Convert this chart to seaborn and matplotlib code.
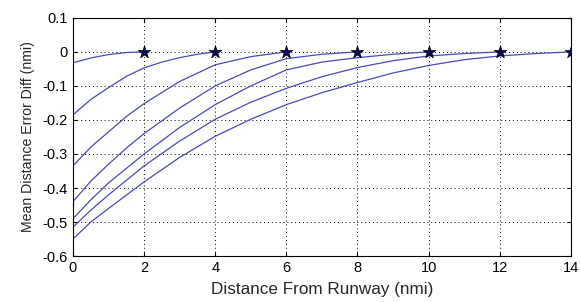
import numpy as np
import pandas as pd
import matplotlib
matplotlib.use('Agg')
import matplotlib.pyplot as plt
import seaborn as sns

# distance from runway (nmi) and mean distance error diff (nmi), one list per curve
x1 = [0, 0.5, 1, 1.5, 2]
y1 = [-0.032, -0.018, -0.008, -0.002, 0.0]
x2 = [0, 0.5, 1, 1.5, 2, 2.5, 3, 3.5, 4]
y2 = [-0.185, -0.14, -0.105, -0.072, -0.047, -0.03, -0.017, -0.007, 0.0]
x3 = [0, 0.5, 1, 1.5, 2, 3, 4, 5, 6]
y3 = [-0.335, -0.28, -0.235, -0.19, -0.152, -0.087, -0.038, -0.014, 0.0]
x4 = [0, 0.5, 1, 1.5, 2, 3, 4, 5, 6, 7, 8]
y4 = [-0.44, -0.38, -0.33, -0.283, -0.24, -0.165, -0.1, -0.053, -0.02, -0.007, 0.0]
x5 = [0, 0.5, 1, 2, 3, 4, 5, 6, 7, 8, 9, 10]
y5 = [-0.49, -0.435, -0.385, -0.3, -0.222, -0.155, -0.1, -0.053, -0.03, -0.017, -0.007, 0.0]
x6 = [0, 0.5, 1, 2, 3, 4, 5, 6, 7, 8, 9, 10, 11, 12]
y6 = [-0.515, -0.465, -0.42, -0.335, -0.262, -0.198, -0.148, -0.107, -0.073, -0.046, -0.026, -0.012, -0.005, 0.0]
x7 = [0, 0.5, 1, 2, 3, 4, 5, 6, 7, 8, 9, 10, 11, 12, 13, 14]
y7 = [-0.55, -0.5, -0.46, -0.382, -0.31, -0.248, -0.198, -0.155, -0.12, -0.09, -0.062, -0.04, -0.023, -0.012, -0.005, 0.0]

xs = [x1, x2, x3, x4, x5, x6, x7]
ys = [y1, y2, y3, y4, y5, y6, y7]

frames = []
for i, (xx, yy) in enumerate(zip(xs, ys)):
    frames.append(pd.DataFrame({'dist': xx, 'err': yy, 'run': i}))
df = pd.concat(frames, ignore_index=True)
ends = pd.DataFrame({'dist': [xx[-1] for xx in xs], 'err': [yy[-1] for yy in ys]})

sns.set_style('white')
plt.rcParams['font.family'] = ['Liberation Sans', 'DejaVu Sans']

fig = plt.figure(figsize=(5.81, 3.02), dpi=100)
ax = fig.add_axes([0.1256, 0.152, 0.857, 0.789])

sns.lineplot(data=df, x='dist', y='err', units='run', estimator=None,
             color='#4a4ab8', linewidth=0.9, ax=ax)
sns.scatterplot(data=ends, x='dist', y='err', marker='*', s=90,
                color='#0a0a5a', edgecolor='black', linewidth=0.5, zorder=5, ax=ax)

ax.set_xlim(0, 14)
ax.set_ylim(-0.6, 0.1)
ax.set_xticks(np.arange(0, 15, 2))
ax.set_yticks(np.round(np.arange(-0.6, 0.11, 0.1), 1))
ax.set_yticklabels(['-0.6', '-0.5', '-0.4', '-0.3', '-0.2', '-0.1', '0', '0.1'])
ax.grid(True, linestyle=(0, (1, 3)), color='black', linewidth=0.7)
ax.tick_params(direction='in', length=3, labelsize=10.5, colors='black',
               top=True, right=True, bottom=True, left=True)
for sp in ax.spines.values():
    sp.set_color('black')
    sp.set_linewidth(0.8)
ax.set_xlabel('Distance From Runway (nmi)', fontsize=12.3, labelpad=5)
ax.set_ylabel('Mean Distance Error Diff (nmi)', fontsize=10.2, labelpad=6)

fig.savefig('out.png', dpi=100)
